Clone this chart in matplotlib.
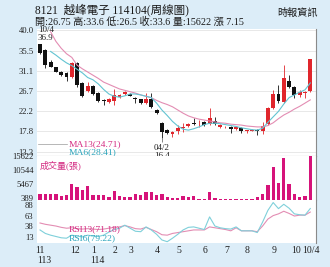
import matplotlib.pyplot as plt
import numpy as np

W, H = 330, 267
BG = '#dcedf8'
SERIF = ['Liberation Serif', 'Noto Sans CJK TC']

# weekly candles, 113/10 .. 114/10/4
opens  = [36.9, 35.6, 33.0, 31.8, 30.9, 30.5, 29.8, 32.7, 28.5, 26.6, 27.7, 26.3, 24.7,
          24.3, 24.5, 25.4, 25.9, 26.1, 25.1, 24.8, 24.0, 24.8, 22.5, 19.6, 18.1, 17.2,
          18.0, 18.5, 19.0, 19.6, 19.6, 19.9, 19.4, 20.1, 18.8, 18.9, 18.8, 18.3, 18.5,
          17.9, 18.0, 18.1, 17.9, 19.4, 22.9, 26.1, 24.3, 28.9, 27.6, 25.8, 26.2, 26.75]
highs  = [36.9, 35.8, 33.4, 32.0, 31.1, 30.7, 33.1, 32.9, 28.7, 28.6, 27.9, 26.5, 24.9,
          25.2, 27.0, 26.0, 26.6, 26.3, 25.3, 25.0, 26.2, 26.2, 22.8, 19.8, 18.3, 17.8,
          19.2, 19.6, 19.6, 20.8, 20.3, 20.1, 22.9, 21.0, 19.4, 19.1, 19.0, 19.0, 18.7,
          18.2, 18.3, 18.3, 19.9, 23.1, 26.8, 28.0, 32.3, 30.1, 27.8, 26.8, 26.7, 33.6]
lows   = [34.7, 31.7, 31.8, 30.7, 30.0, 28.9, 29.5, 27.6, 25.4, 26.4, 25.7, 24.3, 23.6,
          24.1, 23.6, 25.2, 25.8, 25.5, 24.0, 23.8, 23.8, 23.0, 21.6, 16.4, 17.2, 16.6,
          17.2, 17.7, 18.8, 19.2, 18.8, 19.0, 19.2, 19.2, 18.6, 18.6, 17.5, 18.1, 17.5,
          17.5, 17.8, 17.0, 17.2, 19.2, 22.7, 24.0, 24.1, 27.3, 25.1, 25.3, 25.2, 26.5]
closes = [34.9, 32.4, 32.0, 30.9, 30.2, 29.8, 32.7, 28.0, 25.6, 27.7, 25.9, 24.5, 24.4,
          25.0, 25.8, 25.8, 26.4, 25.6, 24.9, 24.0, 24.8, 23.2, 21.8, 17.7, 17.4, 17.6,
          18.5, 18.8, 19.4, 19.5, 19.7, 19.2, 20.7, 19.4, 19.2, 19.0, 18.3, 18.8, 18.0,
          18.0, 18.1, 17.8, 19.1, 22.9, 26.1, 24.5, 29.4, 27.5, 25.8, 26.5, 26.45, 33.6]

# moving averages, drawn from the third week on
ma13 = [39.6, 37.5, 36.0, 34.8, 34.0, 32.3, 31.5, 30.8, 30.1, 29.4, 28.6, 28.1, 27.6,
        27.1, 26.8, 26.5, 26.2, 25.8, 25.5, 25.2, 24.6, 24.1, 23.7, 23.2, 22.5, 21.8,
        21.2, 20.8, 20.5, 20.3, 20.1, 19.9, 19.7, 19.6, 19.4, 19.3, 19.2, 19.0, 18.9,
        18.8, 18.8, 19.1, 19.7, 20.6, 21.4, 22.0, 22.7, 23.3, 24.0, 24.71]
ma6 = [35.3, 34.5, 33.6, 32.8, 32.2, 31.4, 30.6, 29.6, 29.1, 28.2, 27.0, 26.0, 25.5,
       25.3, 25.6, 26.0, 26.0, 25.8, 25.5, 25.2, 24.0, 22.5, 21.3, 20.0, 19.0, 18.3,
       18.1, 18.4, 18.8, 19.3, 19.6, 19.6, 19.5, 19.3, 19.1, 18.9, 18.6, 18.4, 18.2,
       18.1, 18.5, 19.8, 21.0, 22.2, 23.8, 25.2, 25.8, 26.4, 26.9, 28.41]

volume = [1944, 2050, 2050, 1830, 1320, 1580, 5720, 4620, 3520, 4880, 1580, 1580, 1470,
          950, 2930, 1320, 950, 840, 1940, 1690, 2680, 2680, 1690, 2050, 770, 660,
          660, 1210, 730, 1210, 290, 290, 2680, 370, 200, 200, 200, 200, 150,
          150, 180, 950, 2050, 5240, 11730, 5870, 15030, 5610, 1940, 950, 1320, 15622]

rsi13 = [46, 43, 41, 39, 36, 34, 35, 33, 32, 33, 32, 31, 32, 34, 36, 37, 40, 37, 33,
         32, 36, 31, 26, 19, 18, 22, 24, 26, 28, 30, 30, 30, 37, 35, 33, 31, 28, 35,
         28, 28, 28, 26, 39, 55, 63, 67, 73, 68, 62, 64, 64, 71.18]
rsi6 = [30, 22, 18, 15, 12, 11, 18, 16, 14, 18, 16, 15, 18, 25, 31, 34, 41, 34, 27,
        26, 37, 30, 20, 7, 3, 11, 20, 30, 36, 37, 34, 31, 60, 39, 35, 33, 32, 37,
        28, 28, 28, 24, 48, 75, 93, 79, 89, 80, 67, 65, 64, 79.22]

price_ticks = [40.0, 35.5, 31.1, 26.7, 22.2, 17.8, 13.3]
vol_ticks = [15622, 10544, 5467, 389]
rsi_ticks = [88, 63, 38, 13]
month_pos = [0.06, 6.6, 10.1, 14.2, 17.2, 22.2, 26.2, 31.2, 35.2, 39.1, 44.1, 48.4, 51.1]
month_labels = ['11', '12', '1', '2', '3', '4', '5', '6', '7', '8', '9', '10', '10/4']
year_pos = [0.06, 10.1]
year_labels = ['113', '114']

x = np.arange(len(closes))
o, h, l, c = map(np.array, (opens, highs, lows, closes))
XLIM = (-0.57, 52.08)

fig = plt.figure(figsize=(W / 100, H / 100), dpi=100, facecolor=BG)


def box(left, top, right, bottom):
    a = fig.add_axes([left / W, 1 - bottom / H, (right - left) / W, (bottom - top) / H])
    a.set_facecolor('white')
    a.set_xlim(*XLIM)
    a.set_xticks([])
    for s in ('left', 'top', 'bottom'):
        a.spines[s].set_visible(False)
    a.spines['right'].set_color('#8a8a8a')
    a.spines['right'].set_linewidth(0.8)
    a.tick_params(axis='y', length=0, pad=2.5, labelsize=6.2, labelcolor='#222')
    return a


# price panel
ax = box(37, 29, 316, 155.5)
ax.set_ylim(12.55, 40.21)
ax.set_yticks(price_ticks)
ax.set_yticklabels([f'{v:.1f}' for v in price_ticks], family=SERIF)
ax.grid(axis='y', color='#e4e4e4', lw=0.6)
ax.set_axisbelow(True)
ax.spines['bottom'].set_visible(True)
ax.spines['bottom'].set_color('#8a8a8a')
ax.spines['bottom'].set_linewidth(0.8)

up = c >= o
cols = np.where(up, '#e0262c', '#111111')
ax.vlines(x, l, h, colors=cols, lw=0.6, zorder=2)
ax.bar(x, np.maximum(np.abs(c - o), 0.12), bottom=np.minimum(o, c), width=0.74,
       color=cols, zorder=3)
ax.plot(x[2:], ma13, color='#e38db3', lw=0.8, zorder=4)
ax.plot(x[2:], ma6, color='#62c4d2', lw=0.8, zorder=4)

ax.annotate('10/4\n36.9', xy=(0, h[0]), xytext=(-1.5, 1.5), textcoords='offset points',
            ha='left', va='bottom', fontsize=6.5, family=SERIF, color='#222',
            linespacing=0.95)
lo = int(np.argmin(l))
ax.vlines(lo, l[lo] - 0.8, l[lo], colors='#555', lw=0.5)
ax.annotate('04/2\n16.4', xy=(lo, l[lo]), xytext=(0, -4.5), textcoords='offset points',
            ha='center', va='top', fontsize=6.5, family=SERIF, color='#222',
            linespacing=0.95)

ax.plot([0.004, 0.108], [0.092, 0.092], transform=ax.transAxes, color='#9a9a9a', lw=0.5)
ax.text(0.112, 0.092, 'MA13(24.71)', transform=ax.transAxes, color='#d42c82',
        fontsize=6.8, family=SERIF, va='center')
ax.text(0.112, 0.026, 'MA6(28.41)', transform=ax.transAxes, color='#2aa4bb',
        fontsize=6.8, family=SERIF, va='center')

# volume panel
av = box(37, 155.5, 316, 199.5)
av.set_ylim(0, 15850)
av.set_yticks(vol_ticks)
av.set_yticklabels([str(v) for v in vol_ticks], family=SERIF)
av.bar(x, volume, width=0.62, color='#d6137a')
av.spines['bottom'].set_visible(True)
av.spines['bottom'].set_color('#9a9a9a')
av.spines['bottom'].set_linewidth(0.6)
av.text(0.011, 0.78, '成交量(張)', transform=av.transAxes, color='#d42c82',
        fontsize=6.5, family=SERIF, va='center')

# RSI panel
ar = box(37, 199.5, 316, 243)
ar.set_ylim(0, 100)
ar.set_yticks(rsi_ticks)
ar.set_yticklabels([str(v) for v in rsi_ticks], family=SERIF)
ar.plot(x, rsi13, color='#e38db3', lw=0.8)
ar.plot(x, rsi6, color='#7fd0da', lw=0.8)
ar.text(0.112, 0.31, 'RSI13(71.18)', transform=ar.transAxes, color='#d42c82',
        fontsize=6.8, family=SERIF, va='center')
ar.text(0.112, 0.12, 'RSI6(79.22)', transform=ar.transAxes, color='#2aa4bb',
        fontsize=6.8, family=SERIF, va='center')

for p, s in zip(month_pos, month_labels):
    ar.text(p, -0.08, s, transform=ar.get_xaxis_transform(), ha='center', va='top',
            fontsize=7, family=SERIF, color='#222')
for p, s in zip(year_pos, year_labels):
    ar.text(p - 0.6, -0.3, s, transform=ar.get_xaxis_transform(), ha='left', va='top',
            fontsize=7, family=SERIF, color='#222')

# header
fig.text(35 / W, 1 - 10 / H, '8121  越峰電子 114104(周線圖)', fontsize=8.3, family=SERIF,
         color='#1a1a1a', va='center', ha='left')
fig.text(35 / W, 1 - 22 / H, '開:26.75 高:33.6 低:26.5 收:33.6 量:15622 漲 7.15',
         fontsize=7.3, family=SERIF, color='#1a1a1a', va='center', ha='left')
fig.text(318 / W, 1 - 13 / H, '時報資訊', fontsize=7.3, family=SERIF, color='#1a1a1a',
         va='center', ha='right')

fig.savefig('out.png', dpi=100, facecolor=BG)
